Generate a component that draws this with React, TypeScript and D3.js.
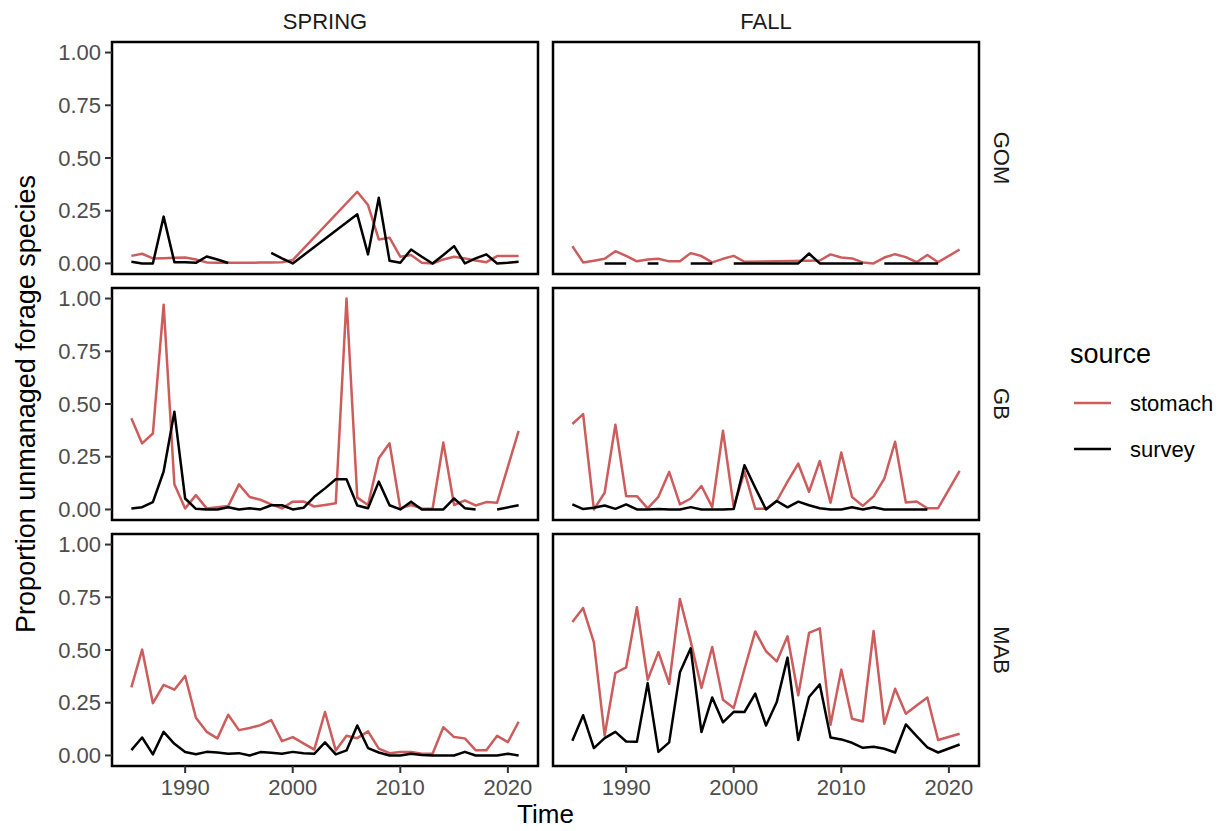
import * as d3 from 'd3';

type Pt = [number, number | null];

// values, [year, proportion]; null = gap in the line
const springGomStomach: Pt[] = [[1985,.036],[1986,.046],[1987,.024],[1988,.025],[1989,.027],[1990,.028],[1991,.019],[1992,.005],[1993,.003],[1994,.003],[1995,.003],[1996,.003],[1997,.004],[1998,.005],[1999,.006],[2000,.016],[2006,.34],[2007,.277],[2008,.114],[2009,.122],[2010,.032],[2011,.04],[2012,.003],[2013,0],[2014,.019],[2015,.032],[2016,.024],[2017,.014],[2018,.006],[2019,.035],[2020,.035],[2021,.035]];
const springGomSurvey: Pt[] = [[1985,.008],[1986,0],[1987,0],[1988,.222],[1989,.006],[1990,.006],[1991,.003],[1992,.033],[1993,.019],[1994,.002],[1995,null],[1996,null],[1997,null],[1998,.05],[1999,.024],[2000,0],[2006,.233],[2007,.043],[2008,.312],[2009,.013],[2010,.003],[2011,.066],[2012,.032],[2013,0],[2014,.04],[2015,.082],[2016,0],[2017,.024],[2018,.043],[2019,0],[2020,.003],[2021,.008]];

const fallGomStomach: Pt[] = [[1985,.082],[1986,.005],[1987,.013],[1988,.022],[1989,.058],[1990,.036],[1991,.01],[1992,.019],[1993,.022],[1994,.01],[1995,.01],[1996,.049],[1997,.035],[1998,.005],[1999,.022],[2000,.036],[2001,.008],[2008,.014],[2009,.043],[2010,.028],[2011,.024],[2012,.005],[2013,0],[2014,.028],[2015,.044],[2016,.03],[2017,.006],[2018,.04],[2019,.006],[2021,.066]];
const fallGomSurvey: Pt[] = [[1988,0],[1989,0],[1990,0],[1991,null],[1992,0],[1993,0],[1994,null],[1995,null],[1996,0],[1997,0],[1998,0],[1999,null],[2000,0],[2001,0],[2002,0],[2003,0],[2004,0],[2005,0],[2006,0],[2007,.047],[2008,0],[2009,0],[2010,0],[2011,0],[2012,0],[2013,null],[2014,0],[2015,0],[2016,0],[2017,0],[2018,0],[2019,0]];

const springGbStomach: Pt[] = [[1985,.432],[1986,.313],[1987,.36],[1988,.971],[1989,.119],[1990,.005],[1991,.068],[1992,.005],[1993,.011],[1994,.016],[1995,.119],[1996,.059],[1997,.046],[1998,.024],[1999,.005],[2000,.037],[2001,.038],[2002,.014],[2003,.021],[2004,.029],[2005,1],[2006,.056],[2007,.021],[2008,.243],[2009,.314],[2010,.005],[2011,.021],[2012,.005],[2013,.003],[2014,.317],[2015,.021],[2016,.043],[2017,.019],[2018,.035],[2019,.032],[2021,.373]];
const springGbSurvey: Pt[] = [[1985,.005],[1986,.011],[1987,.035],[1988,.18],[1989,.463],[1990,.052],[1991,.003],[1992,0],[1993,0],[1994,.01],[1995,0],[1996,.006],[1997,0],[1998,.02],[1999,.02],[2000,0],[2001,.008],[2002,.06],[2003,.1],[2004,.143],[2005,.143],[2006,.019],[2007,.006],[2008,.132],[2009,.02],[2010,0],[2011,.037],[2012,0],[2013,0],[2014,0],[2015,.052],[2016,.006],[2017,0],[2018,null],[2019,0],[2021,.02]];

const fallGbStomach: Pt[] = [[1985,.405],[1986,.452],[1987,0],[1988,.079],[1989,.402],[1990,.063],[1991,.063],[1992,.005],[1993,.06],[1994,.178],[1995,.024],[1996,.052],[1997,.111],[1998,.011],[1999,.373],[2000,.011],[2001,.179],[2002,.003],[2003,.003],[2004,.04],[2005,.132],[2006,.217],[2007,.084],[2008,.23],[2009,.032],[2010,.27],[2011,.059],[2012,.017],[2013,.062],[2014,.146],[2015,.321],[2016,.033],[2017,.038],[2018,.006],[2019,.006],[2021,.183]];
const fallGbSurvey: Pt[] = [[1985,.024],[1986,.002],[1987,.008],[1988,.019],[1989,.003],[1990,.024],[1991,0],[1992,0],[1993,.002],[1994,0],[1995,0],[1996,.011],[1997,0],[1998,0],[1999,0],[2000,.002],[2001,.21],[2002,.103],[2003,0],[2004,.04],[2005,.01],[2006,.037],[2007,.02],[2008,.006],[2009,0],[2010,0],[2011,.01],[2012,0],[2013,.01],[2014,0],[2015,0],[2016,0],[2017,0],[2018,0]];

const springMabStomach: Pt[] = [[1985,.323],[1986,.502],[1987,.248],[1988,.335],[1989,.312],[1990,.377],[1991,.179],[1992,.112],[1993,.081],[1994,.193],[1995,.12],[1996,.13],[1997,.144],[1998,.168],[1999,.068],[2000,.087],[2001,.057],[2002,.028],[2003,.206],[2004,.024],[2005,.093],[2006,.082],[2007,.114],[2008,.032],[2009,.011],[2010,.016],[2011,.016],[2012,.008],[2013,.008],[2014,.134],[2015,.087],[2016,.081],[2017,.025],[2018,.025],[2019,.093],[2020,.063],[2021,.16]];
const springMabSurvey: Pt[] = [[1985,.025],[1986,.085],[1987,.005],[1988,.112],[1989,.055],[1990,.016],[1991,.006],[1992,.017],[1993,.014],[1994,.008],[1995,.011],[1996,0],[1997,.016],[1998,.013],[1999,.008],[2000,.017],[2001,.011],[2002,.008],[2003,.062],[2004,.005],[2005,.024],[2006,.142],[2007,.035],[2008,.014],[2009,0],[2010,0],[2011,.008],[2012,.002],[2013,0],[2014,0],[2015,0],[2016,.017],[2017,0],[2018,0],[2019,0],[2020,.008],[2021,0]];

const fallMabStomach: Pt[] = [[1985,.633],[1986,.699],[1987,.536],[1988,.095],[1989,.391],[1990,.418],[1991,.703],[1992,.359],[1993,.49],[1994,.34],[1995,.742],[1996,.541],[1997,.32],[1998,.514],[1999,.264],[2000,.225],[2001,.41],[2002,.588],[2003,.494],[2004,.446],[2005,.565],[2006,.285],[2007,.581],[2008,.603],[2009,.146],[2010,.407],[2011,.174],[2012,.161],[2013,.59],[2014,.15],[2015,.316],[2016,.198],[2017,.237],[2018,.275],[2019,.073],[2021,.103]];
const fallMabSurvey: Pt[] = [[1985,.07],[1986,.191],[1987,.035],[1988,.082],[1989,.112],[1990,.066],[1991,.065],[1992,.343],[1993,.017],[1994,.062],[1995,.394],[1996,.508],[1997,.111],[1998,.275],[1999,.157],[2000,.207],[2001,.206],[2002,.293],[2003,.142],[2004,.253],[2005,.464],[2006,.073],[2007,.277],[2008,.337],[2009,.085],[2010,.076],[2011,.06],[2012,.036],[2013,.041],[2014,.032],[2015,.014],[2016,.147],[2017,.092],[2018,.038],[2019,.014],[2021,.052]];

const seasons = ['SPRING', 'FALL'];
const regions = ['GOM', 'GB', 'MAB'];
const sources = ['stomach', 'survey'];
const xTicks = [1990, 2000, 2010, 2020];
const yTicks = [0, 0.25, 0.5, 0.75, 1];

const panels: Pt[][][][] = [
  [[springGomStomach, springGomSurvey], [fallGomStomach, fallGomSurvey]],
  [[springGbStomach, springGbSurvey], [fallGbStomach, fallGbSurvey]],
  [[springMabStomach, springMabSurvey], [fallMabStomach, fallMabSurvey]],
];

const colors = ['#CD5C5C', '#000000'];
const font = 'Liberation Sans, Arial, Helvetica, sans-serif';

export default function App() {
  const width = 1221;
  const height = 831;
  const colX = [112, 553];
  const rowY = [42, 288, 534];
  const panelW = 426;
  const panelH = 232;

  const x = d3.scaleLinear().domain([1983.2, 2022.8]).range([0, panelW]);
  const y = d3.scaleLinear().domain([-0.05, 1.05]).range([panelH, 0]);
  const line = d3.line<Pt>()
    .defined(d => d[1] != null)
    .x(d => x(d[0]))
    .y(d => y(d[1] as number));

  return (
    <svg width={width} height={height} style={{ display: 'block', position: 'absolute', left: 0, top: 0, fontFamily: font }}>
      <rect width={width} height={height} fill="#fff" />

      {/* strip labels on top */}
      {seasons.map((s, j) => (
        <text key={s} x={colX[j] + panelW / 2} y={29} textAnchor="middle" fontSize={22} fill="#1A1A1A">{s}</text>
      ))}

      {regions.map((r, i) => (
        <g key={r}>
          <text
            transform={`translate(1001,${rowY[i] + panelH / 2}) rotate(90)`}
            textAnchor="middle"
            dominantBaseline="central"
            fontSize={22}
            fill="#1A1A1A"
          >{r}</text>
          {seasons.map((s, j) => (
            <g key={s} transform={`translate(${colX[j]},${rowY[i]})`}>
              {panels[i][j].map((series, k) => (
                <path key={k} d={line(series) || ''} fill="none" stroke={colors[k]} strokeWidth={2.5} strokeLinejoin="round" />
              ))}
              <rect x={0} y={0} width={panelW} height={panelH} fill="none" stroke="#000" strokeWidth={2.5} />
              {j === 0 && yTicks.map(t => (
                <g key={t}>
                  <line x1={-7} x2={0} y1={y(t)} y2={y(t)} stroke="#333" strokeWidth={2} />
                  <text x={-11} y={y(t)} textAnchor="end" dominantBaseline="central" fontSize={22} fill="#4D4D4D">{t.toFixed(2)}</text>
                </g>
              ))}
              {i === 2 && xTicks.map(t => (
                <g key={t}>
                  <line x1={x(t)} x2={x(t)} y1={panelH} y2={panelH + 7} stroke="#333" strokeWidth={2} />
                  <text x={x(t)} y={panelH + 29} textAnchor="middle" fontSize={22} fill="#4D4D4D">{t}</text>
                </g>
              ))}
            </g>
          ))}
        </g>
      ))}

      {/* axis titles */}
      <text x={colX[0] + (colX[1] + panelW - colX[0]) / 2} y={823} textAnchor="middle" fontSize={26} fill="#000">Time</text>
      <text transform={`translate(35,${rowY[0] + (rowY[2] + panelH - rowY[0]) / 2}) rotate(-90)`} textAnchor="middle" fontSize={27} fill="#000">Proportion unmanaged forage species</text>

      {/* legend */}
      <text x={1070} y={363} fontSize={27} fill="#000">source</text>
      {sources.map((s, k) => (
        <g key={s} transform={`translate(0,${403 + k * 46})`}>
          <line x1={1074} x2={1111} y1={0} y2={0} stroke={colors[k]} strokeWidth={2.5} />
          <text x={1130} y={0} dominantBaseline="central" fontSize={22} fill="#000">{s}</text>
        </g>
      ))}
    </svg>
  );
}
